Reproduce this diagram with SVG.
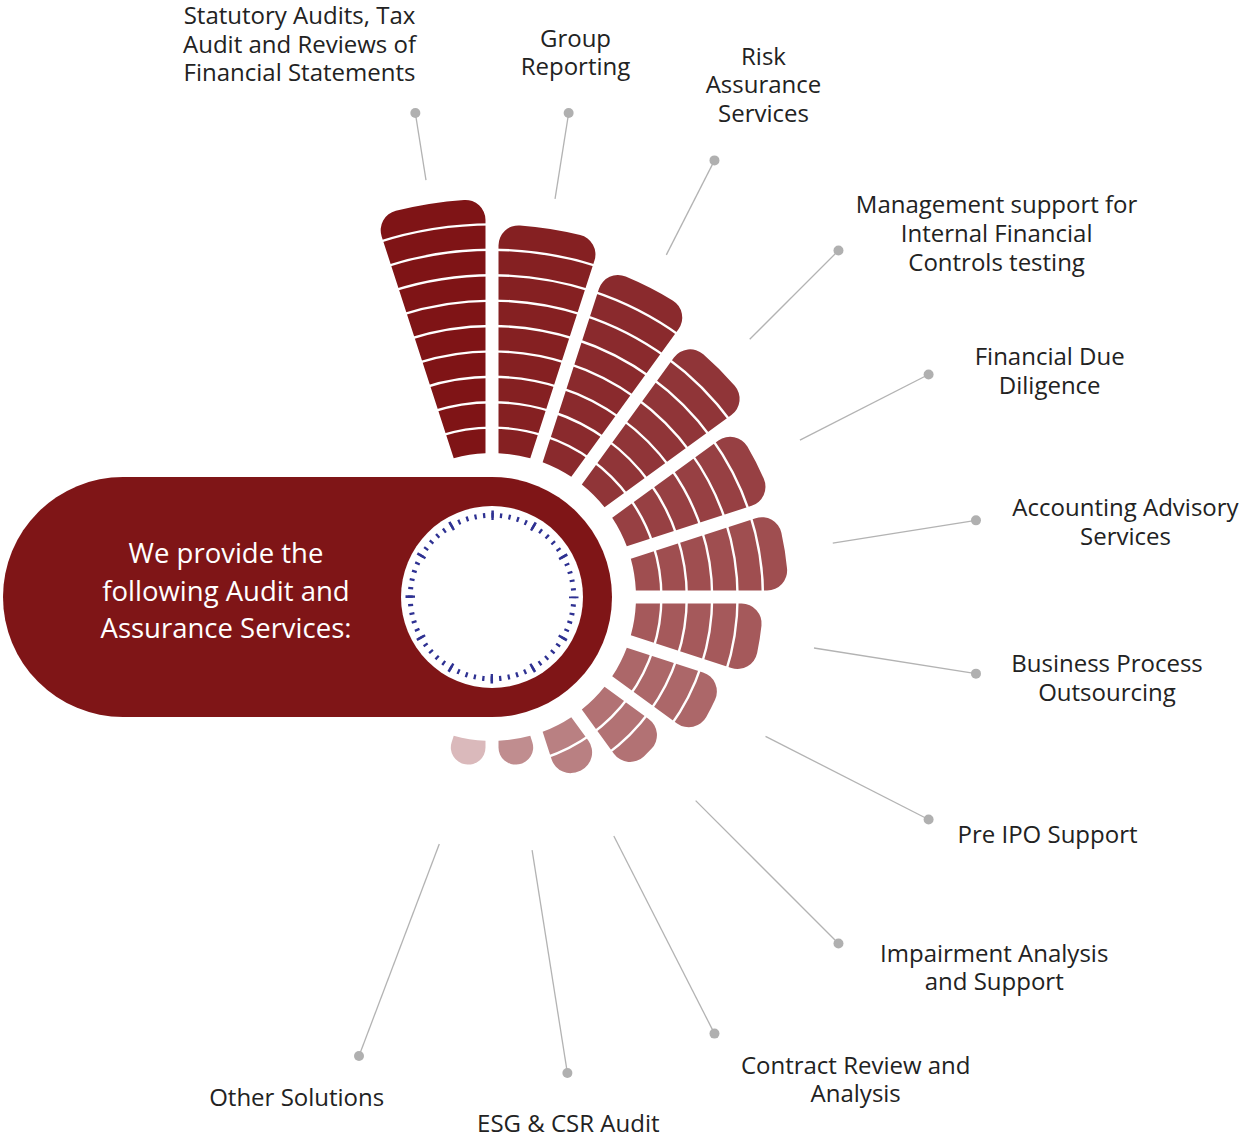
<svg xmlns="http://www.w3.org/2000/svg" width="1241" height="1137" viewBox="0 0 1241 1137">
<style>
.lbl{font-family:"Open Sans","Liberation Sans",sans-serif;font-size:24px;fill:#222;text-anchor:middle}
.ctr{font-family:"Open Sans","Liberation Sans",sans-serif;font-size:27.5px;fill:#fff;text-anchor:middle}
.seg{fill:none;stroke:#fff;stroke-width:2.4}
.con{stroke:#b3b3b3;stroke-width:1.3;fill:none}
.dot{fill:#b0b0b0}
</style>
<defs>
<path id="s1" d="M143.099,-16.083 A144,144 0 0 1 143.099,16.083 L149.741,17.135 A17,17 0 0 0 169.400,0.382 A169.4,169.4 0 0 0 169.400,-0.382 A17,17 0 0 0 149.741,-17.135 Z"/>
<path id="s2" d="M143.099,-16.083 A144,144 0 0 1 143.099,16.083 L171.670,20.608 A20,20 0 0 0 194.798,0.952 A194.8,194.8 0 0 0 194.798,-0.952 A20,20 0 0 0 171.670,-20.608 Z"/>
<path id="s3" d="M143.099,-16.083 A144,144 0 0 1 143.099,16.083 L197.012,24.622 A20,20 0 0 0 220.134,5.354 A220.2,220.2 0 0 0 220.134,-5.354 A20,20 0 0 0 197.012,-24.622 Z"/>
<path id="s4" d="M143.099,-16.083 A144,144 0 0 1 143.099,16.083 L222.297,28.626 A20,20 0 0 0 245.410,9.659 A245.6,245.6 0 0 0 245.410,-9.659 A20,20 0 0 0 222.297,-28.626 Z"/>
<path id="s5" d="M143.099,-16.083 A144,144 0 0 1 143.099,16.083 L247.541,32.624 A20,20 0 0 0 270.643,13.895 A271,271 0 0 0 270.643,-13.895 A20,20 0 0 0 247.541,-32.624 Z"/>
<path id="s6" d="M143.099,-16.083 A144,144 0 0 1 143.099,16.083 L272.757,36.618 A20,20 0 0 0 295.848,18.084 A296.4,296.4 0 0 0 295.848,-18.084 A20,20 0 0 0 272.757,-36.618 Z"/>
<path id="s7" d="M143.099,-16.083 A144,144 0 0 1 143.099,16.083 L297.950,40.608 A20,20 0 0 0 321.030,22.236 A321.8,321.8 0 0 0 321.030,-22.236 A20,20 0 0 0 297.950,-40.608 Z"/>
<path id="s8" d="M143.099,-16.083 A144,144 0 0 1 143.099,16.083 L323.127,44.596 A20,20 0 0 0 346.198,26.360 A347.2,347.2 0 0 0 346.198,-26.360 A20,20 0 0 0 323.127,-44.596 Z"/>
<path id="s9" d="M143.099,-16.083 A144,144 0 0 1 143.099,16.083 L348.292,48.581 A20,20 0 0 0 371.353,30.462 A372.6,372.6 0 0 0 371.353,-30.462 A20,20 0 0 0 348.292,-48.581 Z"/>
<path id="s10" d="M143.099,-16.083 A144,144 0 0 1 143.099,16.083 L373.445,52.565 A20,20 0 0 0 396.498,34.547 A398,398 0 0 0 396.498,-34.547 A20,20 0 0 0 373.445,-52.565 Z"/>
<path id="a1" class="seg" d="M167.314,-26.500 A169.4,169.4 0 0 1 167.314,26.500"/>
<path id="a2" class="seg" d="M192.402,-30.473 A194.8,194.8 0 0 1 192.402,30.473"/>
<path id="a3" class="seg" d="M217.489,-34.447 A220.2,220.2 0 0 1 217.489,34.447"/>
<path id="a4" class="seg" d="M242.576,-38.420 A245.6,245.6 0 0 1 242.576,38.420"/>
<path id="a5" class="seg" d="M267.663,-42.394 A271,271 0 0 1 267.663,42.394"/>
<path id="a6" class="seg" d="M292.751,-46.367 A296.4,296.4 0 0 1 292.751,46.367"/>
<path id="a7" class="seg" d="M317.838,-50.340 A321.8,321.8 0 0 1 317.838,50.340"/>
<path id="a8" class="seg" d="M342.925,-54.314 A347.2,347.2 0 0 1 342.925,54.314"/>
<path id="a9" class="seg" d="M368.013,-58.287 A372.6,372.6 0 0 1 368.013,58.287"/>
</defs>
<rect width="1241" height="1137" fill="#fff"/>

<g id="node-center">
<rect x="3" y="477" width="609" height="240" rx="120" ry="120" fill="#7f1517"/>
<circle cx="492" cy="597" r="91" fill="#fff"/>
<circle cx="492" cy="597" r="81.75" fill="none" stroke="#2e3192" stroke-width="5" stroke-dasharray="2.3 6.2603" stroke-dashoffset="1.15"/>
<circle cx="492" cy="597" r="81.75" fill="none" stroke="#2e3192" stroke-width="9.5" stroke-dasharray="2.5 40.301" stroke-dashoffset="1.25"/>
<text class="ctr" x="226" y="563"><tspan x="226" y="563">We provide the</tspan><tspan x="226" y="600.5">following Audit and</tspan><tspan x="226" y="638">Assurance Services:</tspan></text>
</g>

<g id="node-statutory">
<g transform="translate(492 597) rotate(-99)"><use href="#s10" fill="#7f1416"/><use href="#a1"/><use href="#a2"/><use href="#a3"/><use href="#a4"/><use href="#a5"/><use href="#a6"/><use href="#a7"/><use href="#a8"/><use href="#a9"/></g>
<text class="lbl" x="299.5" y="24"><tspan x="299.5" y="24">Statutory Audits, Tax</tspan><tspan x="299.5" y="52.5">Audit and Reviews of</tspan><tspan x="299.5" y="81">Financial Statements</tspan></text>
</g>

<g id="node-group-reporting">
<g transform="translate(492 597) rotate(-81)"><use href="#s9" fill="#852022"/><use href="#a1"/><use href="#a2"/><use href="#a3"/><use href="#a4"/><use href="#a5"/><use href="#a6"/><use href="#a7"/><use href="#a8"/></g>
<text class="lbl" x="575.5" y="46.5"><tspan x="575.5" y="46.5">Group</tspan><tspan x="575.5" y="75">Reporting</tspan></text>
</g>

<g id="node-risk">
<g transform="translate(492 597) rotate(-63)"><use href="#s8" fill="#8a2a2d"/><use href="#a1"/><use href="#a2"/><use href="#a3"/><use href="#a4"/><use href="#a5"/><use href="#a6"/><use href="#a7"/></g>
<text class="lbl" x="763.5" y="64.5"><tspan x="763.5" y="64.5">Risk</tspan><tspan x="763.5" y="93.3">Assurance</tspan><tspan x="763.5" y="122">Services</tspan></text>
</g>

<g id="node-ifc">
<g transform="translate(492 597) rotate(-45)"><use href="#s7" fill="#903538"/><use href="#a1"/><use href="#a2"/><use href="#a3"/><use href="#a4"/><use href="#a5"/><use href="#a6"/></g>
<text class="lbl" x="996.6" y="213.3"><tspan x="996.6" y="213.3">Management support for</tspan><tspan x="996.6" y="242">Internal Financial</tspan><tspan x="996.6" y="270.7">Controls testing</tspan></text>
</g>

<g id="node-fdd">
<g transform="translate(492 597) rotate(-27)"><use href="#s6" fill="#974043"/><use href="#a1"/><use href="#a2"/><use href="#a3"/><use href="#a4"/><use href="#a5"/></g>
<text class="lbl" x="1049.7" y="365"><tspan x="1049.7" y="365">Financial Due</tspan><tspan x="1049.7" y="394">Diligence</tspan></text>
</g>

<g id="node-accounting">
<g transform="translate(492 597) rotate(-9)"><use href="#s6" fill="#9f4e50"/><use href="#a1"/><use href="#a2"/><use href="#a3"/><use href="#a4"/><use href="#a5"/></g>
<text class="lbl" x="1125.5" y="515.5"><tspan x="1125.5" y="515.5">Accounting Advisory</tspan><tspan x="1125.5" y="544.5">Services</tspan></text>
</g>

<g id="node-bpo">
<g transform="translate(492 597) rotate(9)"><use href="#s5" fill="#a5595b"/><use href="#a1"/><use href="#a2"/><use href="#a3"/><use href="#a4"/></g>
<text class="lbl" x="1107" y="671.7"><tspan x="1107" y="671.7">Business Process</tspan><tspan x="1107" y="700.5">Outsourcing</tspan></text>
</g>

<g id="node-preipo">
<g transform="translate(492 597) rotate(27)"><use href="#s4" fill="#ac6769"/><use href="#a1"/><use href="#a2"/><use href="#a3"/></g>
<text class="lbl" x="1047.5" y="843.3">Pre IPO Support</text>
</g>

<g id="node-impairment">
<g transform="translate(492 597) rotate(45)"><use href="#s3" fill="#b27274"/><use href="#a1"/><use href="#a2"/></g>
<text class="lbl" x="994.2" y="961.7"><tspan x="994.2" y="961.7">Impairment Analysis</tspan><tspan x="994.2" y="990.3">and Support</tspan></text>
</g>

<g id="node-contract">
<g transform="translate(492 597) rotate(63)"><use href="#s2" fill="#b98082"/><use href="#a1"/></g>
<text class="lbl" x="855.7" y="1073.7"><tspan x="855.7" y="1073.7">Contract Review and</tspan><tspan x="855.7" y="1102.3">Analysis</tspan></text>
</g>

<g id="node-esg">
<g transform="translate(492 597) rotate(81)"><use href="#s1" fill="#c08d8f"/></g>
<text class="lbl" x="568.3" y="1131.7">ESG &amp; CSR Audit</text>
</g>

<g id="node-other">
<g transform="translate(492 597) rotate(99)"><use href="#s1" fill="#dab9bb"/></g>
<text class="lbl" x="296.7" y="1106">Other Solutions</text>
</g>

<g id="connectors">
<line class="con" x1="426.0" y1="180.2" x2="415.35" y2="113.03"/>
<line class="con" x1="555.04" y1="198.96" x2="568.65" y2="113.03"/>
<line class="con" x1="666.33" y1="254.85" x2="714.46" y2="160.40"/>
<line class="con" x1="749.74" y1="339.26" x2="838.48" y2="250.52"/>
<line class="con" x1="799.93" y1="440.10" x2="928.59" y2="374.54"/>
<line class="con" x1="832.75" y1="543.03" x2="975.97" y2="520.35"/>
<line class="con" x1="813.99" y1="648.00" x2="975.97" y2="673.65"/>
<line class="con" x1="765.54" y1="736.37" x2="928.59" y2="819.46"/>
<line class="con" x1="695.65" y1="800.65" x2="838.48" y2="943.48"/>
<line class="con" x1="613.81" y1="836.06" x2="714.46" y2="1033.60"/>
<line class="con" x1="532.09" y1="850.15" x2="567.40" y2="1073.07"/>
<line class="con" x1="439.3" y1="844" x2="359" y2="1056"/>
<circle class="dot" cx="415.35" cy="113.03" r="5"/>
<circle class="dot" cx="568.65" cy="113.03" r="5"/>
<circle class="dot" cx="714.46" cy="160.40" r="5"/>
<circle class="dot" cx="838.48" cy="250.52" r="5"/>
<circle class="dot" cx="928.59" cy="374.54" r="5"/>
<circle class="dot" cx="975.97" cy="520.35" r="5"/>
<circle class="dot" cx="975.97" cy="673.65" r="5"/>
<circle class="dot" cx="928.59" cy="819.46" r="5"/>
<circle class="dot" cx="838.48" cy="943.48" r="5"/>
<circle class="dot" cx="714.46" cy="1033.60" r="5"/>
<circle class="dot" cx="567.40" cy="1073.07" r="5"/>
<circle class="dot" cx="359" cy="1056" r="5"/>
</g>
</svg>
